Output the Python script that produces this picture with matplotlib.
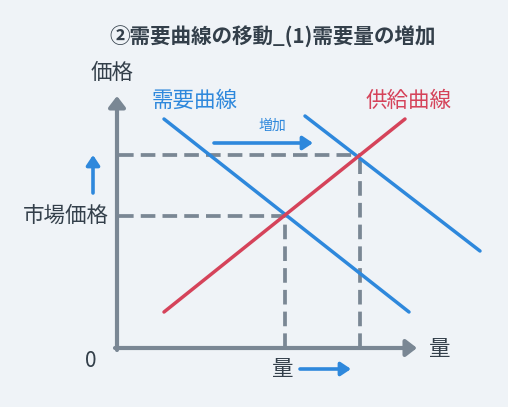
import matplotlib
matplotlib.use("Agg")
import matplotlib.pyplot as plt

plt.rcParams['font.family'] = ['Noto Sans CJK JP', 'DejaVu Sans']

# ---- data (quantity, price) ----
demand1_q = [47, 292]
demand1_p = [229, 36]
demand2_q = [188, 363]
demand2_p = [232, 97]
supply_q = [47, 288]
supply_p = [36, 229]
eq1 = (168, 132)
eq2 = (243, 193)
axis_qmax = 300
axis_pmax = 252

title = "②需要曲線の移動_(1)需要量の増加"

BG = "#eff3f7"
BLUE = "#2e88dc"
RED = "#d5435a"
GRAY = "#7a8794"
TXT = "#333f4a"

fig = plt.figure(figsize=(5.08, 4.07), dpi=100, facecolor=BG)
ax = fig.add_axes([0, 0, 1, 1])
ax.set_facecolor(BG)
ax.set_xlim(-117, 391)
ax.set_ylim(-59, 348)
ax.axis('off')

# dashed guide lines
dash = dict(color=GRAY, lw=2.7, ls=(0, (3.9, 1.9)), solid_capstyle='butt',
            dash_capstyle='butt')
ax.plot([2, eq1[0]], [eq1[1], eq1[1]], **dash)
ax.plot([2, eq2[0]], [eq2[1], eq2[1]], **dash)
ax.plot([eq1[0], eq1[0]], [0, eq1[1]], **dash)
ax.plot([eq2[0], eq2[0]], [0, eq2[1]], **dash)

# curves
ax.plot(demand1_q, demand1_p, color=BLUE, lw=2.5, solid_capstyle='round')
ax.plot(demand2_q, demand2_p, color=BLUE, lw=2.5, solid_capstyle='round')
ax.plot(supply_q, supply_p, color=RED, lw=2.5, solid_capstyle='round')

# axes with arrows
aprops = dict(arrowstyle='-|>,head_length=0.65,head_width=0.5', color=GRAY,
              lw=3, mutation_scale=10, shrinkA=0, shrinkB=0)
ax.annotate('', xy=(0, axis_pmax), xytext=(0, -2), arrowprops=aprops)
ax.annotate('', xy=(axis_qmax, 0), xytext=(-2, 0), arrowprops=aprops)

# blue indicator arrows
bprops = dict(arrowstyle='-|>,head_length=0.6,head_width=0.4', color=BLUE,
              lw=2.6, mutation_scale=10, shrinkA=0, shrinkB=0)
ax.annotate('', xy=(196, 205), xytext=(97, 205), arrowprops=bprops)
ax.annotate('', xy=(-24, 193), xytext=(-24, 155), arrowprops=bprops)
ax.annotate('', xy=(234, -21), xytext=(183, -21), arrowprops=bprops)

# texts
ax.text(156, 311, title, ha='center', va='center', fontsize=14.8,
        fontweight='bold', color=TXT)
ax.text(-5, 275, "価格", ha='center', va='center', fontsize=15.5, color=TXT)
ax.text(78, 247, "需要曲線", ha='center', va='center', fontsize=15.5, color=BLUE)
ax.text(292, 247, "供給曲線", ha='center', va='center', fontsize=15.5, color=RED)
ax.text(155, 222, "増加", ha='center', va='center', fontsize=10, color=BLUE)
ax.text(-51, 132, "市場価格", ha='center', va='center', fontsize=15.5, color=TXT)
ax.text(-26, -13, "0", ha='center', va='center', fontsize=15, color=TXT)
ax.text(323, -1, "量", ha='center', va='center', fontsize=15.5, color=TXT)
ax.text(166, -21, "量", ha='center', va='center', fontsize=15.5, color=TXT)

fig.savefig("out.png", dpi=100, facecolor=BG)
